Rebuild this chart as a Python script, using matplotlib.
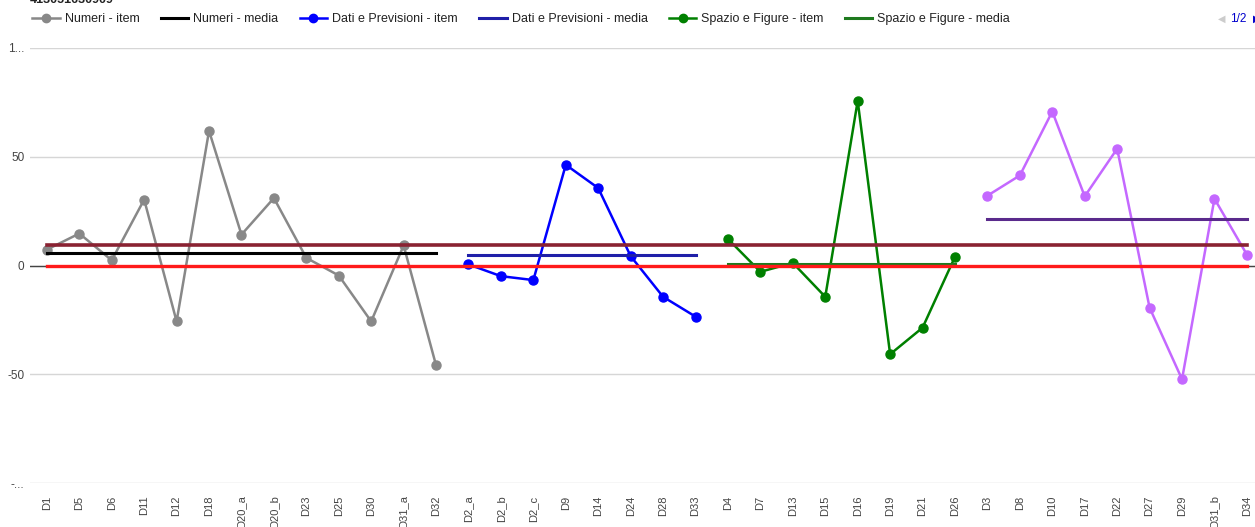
import matplotlib.pyplot as plt
from matplotlib.lines import Line2D

plt.rcParams['font.family'] = ['Liberation Sans', 'DejaVu Sans']

# groups: categories, item values, group mean
numeri_cat = ["D1", "D5", "D6", "D11", "D12", "D18", "D20_a", "D20_b", "D23", "D25", "D30", "D31_a", "D32"]
numeri_val = [7.3, 14.7, 2.4, 30.3, -25.7, 61.9, 14.2, 31.0, 3.5, -4.6, -25.7, 9.2, -45.9]
numeri_media = 5.6

dati_cat = ["D2_a", "D2_b", "D2_c", "D9", "D14", "D24", "D28", "D33"]
dati_val = [0.5, -4.9, -6.7, 46.3, 35.6, 4.3, -14.4, -23.5]
dati_media = 4.6

spazio_cat = ["D4", "D7", "D13", "D15", "D16", "D19", "D21", "D26"]
spazio_val = [12.2, -2.9, 1.2, -14.4, 75.7, -40.8, -28.6, 4.0]
spazio_media = 0.9

rel_cat = ["D3", "D8", "D10", "D17", "D22", "D27", "D29", "D31_b", "D34"]
rel_val = [32.1, 41.4, 70.8, 31.8, 53.7, -19.4, -52.3, 30.7, 5.0]
rel_media = 21.5

media_totale = 9.5
zero_line = 0

fig = plt.figure(figsize=(12.55, 5.27), dpi=100)
ax = fig.add_axes([30 / 1255, 44 / 527, 1 - 30 / 1255, 435 / 527])

groups = [
    (numeri_cat, numeri_val, numeri_media, "#888888", "#000000", "Numeri"),
    (dati_cat, dati_val, dati_media, "#0000ff", "#1f1fa8", "Dati e Previsioni"),
    (spazio_cat, spazio_val, spazio_media, "#008000", "#1e7a1e", "Spazio e Figure"),
    (rel_cat, rel_val, rel_media, "#c468ff", "#5a2a8c", "Relazioni"),
]

all_cat = numeri_cat + dati_cat + spazio_cat + rel_cat

for cats, vals, media, c_item, c_mean, name in groups:
    ax.plot(cats, vals, color=c_item, lw=1.8, marker='o', markersize=6.5, zorder=3)
    ax.plot([cats[0], cats[-1]], [media, media], color=c_mean, lw=2.2, zorder=4)

ax.plot([all_cat[0], all_cat[-1]], [media_totale, media_totale], color="#8a2232", lw=2.6, zorder=4)
ax.plot([all_cat[0], all_cat[-1]], [zero_line, zero_line], color="#ff1a1a", lw=2.4, zorder=4)

ax.set_xlim(-0.52, 37.25)
ax.set_ylim(-100, 100)
ax.set_yticks([-100, -50, 0, 50, 100])
ax.set_yticklabels(["-...", "-50", "0", "50", "1..."])
ax.grid(axis='y', color="#d6d6d6", lw=1)
ax.axhline(0, color="#444444", lw=1, zorder=2)
ax.set_axisbelow(True)
for s in ax.spines.values():
    s.set_visible(False)
ax.tick_params(axis='y', length=0, pad=4, labelsize=8.5, labelcolor="#444444")
ax.tick_params(axis='x', length=0, pad=9, labelsize=8, labelcolor="#444444", rotation=90)

# legend (first page only)
handles = [
    Line2D([], [], color="#888888", lw=1.8, marker='o', markersize=6),
    Line2D([], [], color="#000000", lw=2.2),
    Line2D([], [], color="#0000ff", lw=1.8, marker='o', markersize=6),
    Line2D([], [], color="#1f1fa8", lw=2.2),
    Line2D([], [], color="#008000", lw=1.8, marker='o', markersize=6),
    Line2D([], [], color="#1e7a1e", lw=2.2),
]
labels = ["Numeri - item", "Numeri - media", "Dati e Previsioni - item",
          "Dati e Previsioni - media", "Spazio e Figure - item", "Spazio e Figure - media"]
fig.legend(handles, labels, loc='center left', bbox_to_anchor=(21 / 1255, 1 - 19 / 527),
           ncol=6, frameon=False, fontsize=9, handlelength=2.2, handletextpad=0.4,
           columnspacing=1.7, labelcolor="#222222")

fig.text(1222 / 1255, 1 - 19 / 527, "◀", color="#cccccc", fontsize=7, va='center', ha='center')
fig.text(1238 / 1255, 1 - 19 / 527, "1/2", color="#0000cc", fontsize=8.5, va='center', ha='center')
fig.text(1253 / 1255, 1 - 19 / 527, "▶", color="#0000cc", fontsize=7, va='center', ha='left')

fig.text(30 / 1255, 1.0, "413051630909", fontsize=9, fontweight='bold', color="#222222",
         va='center', ha='left')

fig.savefig("out.png", dpi=100)
